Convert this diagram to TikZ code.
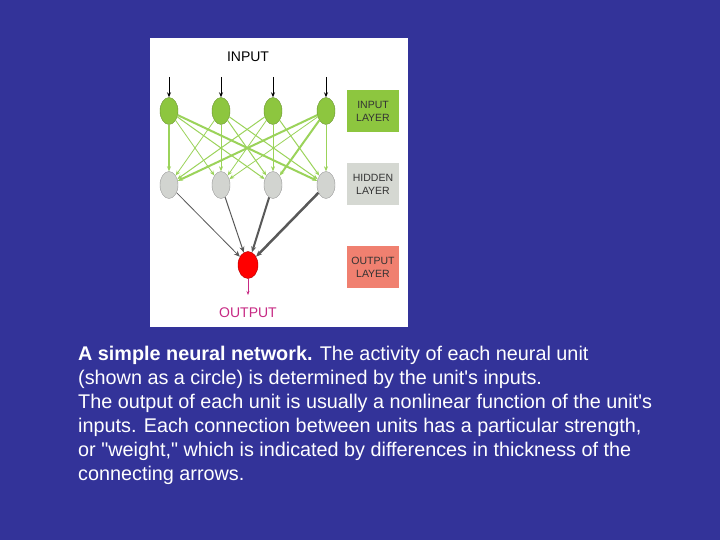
\documentclass[tikz,border=0pt]{standalone}
\usepackage{fontspec}
\setmainfont{Liberation Sans}
\usetikzlibrary{arrows.meta,shapes.geometric}
\definecolor{bg}{HTML}{333399}
\definecolor{gin}{HTML}{8DC63F}
\definecolor{gline}{HTML}{9BD35A}
\definecolor{ghid}{HTML}{D2D4D0}
\definecolor{boxg}{HTML}{8DC63F}
\definecolor{boxh}{HTML}{D5D8D2}
\definecolor{boxo}{HTML}{F08070}
\begin{document}
\begin{tikzpicture}[x=1pt,y=-1pt,
 gw/.style={draw=gline,line width=#1,-{Stealth[length=5pt,width=4pt]}},
 hw/.style={draw=gray!70!black,line width=#1,-{Stealth[length=6pt,width=5pt]}},
 lbox/.style={fill=#1,minimum width=52pt,minimum height=42pt,align=center,font=\fontsize{10.5}{13}\selectfont,inner sep=1pt,text=black!80}]
\fill[bg] (0,0) rectangle (720,540);
\fill[white] (150,38) rectangle (408,327);
\node[font=\fontsize{14}{16}\selectfont] (tin) at (248,57) {INPUT};
\foreach \i/\x in {1/169,2/221,3/273,4/326}{
 \node[ellipse,minimum width=18pt,minimum height=27pt,inner sep=0pt,fill=gin,draw=gin!75!black] (i\i) at (\x,111) {};
 \node[ellipse,minimum width=18pt,minimum height=27pt,inner sep=0pt,fill=ghid,draw=gray!80] (h\i) at (\x,185) {};
 \coordinate (s\i) at (\x,77);
 \draw[line width=1pt,-{Stealth[length=5pt,width=4pt]}] (s\i) -- (i\i);
}
\node[ellipse,minimum width=20pt,minimum height=27pt,inner sep=0pt,fill=red,draw=red!70!black] (o) at (248,265) {};
\foreach \a/\b/\w in {1/1/1.5pt,1/2/0.8pt,1/3/1pt,1/4/2pt,2/1/0.8pt,2/2/0.6pt,2/3/1pt,2/4/1pt,3/1/1pt,3/2/0.8pt,3/3/0.6pt,3/4/1pt,4/1/2pt,4/2/0.8pt,4/3/2pt,4/4/0.6pt}
 \draw[gw=\w] (i\a) -- (h\b);
\draw[hw=0.8pt] (h1) -- (o);
\draw[hw=1pt] (h2) -- (o);
\draw[hw=2pt] (h3) -- (o);
\draw[hw=2.5pt] (h4) -- (o);
\coordinate (oe) at (248,295);
\draw[draw=magenta!80!black,line width=1pt,-{Stealth[length=4pt,width=3pt]}] (o) -- (oe);
\node[font=\fontsize{14}{16}\selectfont,text=magenta!80!black] (tout) at (248,313) {OUTPUT};
\node[lbox=boxg] (bi) at (373,111) {INPUT\\LAYER};
\node[lbox=boxh] (bh) at (373,184) {HIDDEN\\LAYER};
\node[lbox=boxo] (bo) at (373,267) {OUTPUT\\LAYER};
\node[anchor=north west,text=white,align=left,inner sep=0pt,font=\fontsize{19.8}{24}\selectfont] (cap) at (78,346) {\textbf{A simple neural network.} The activity of each neural unit\\(shown as a circle) is determined by the unit\textquotesingle s inputs.\\The output of each unit is usually a nonlinear function of the unit\textquotesingle s\\inputs. Each connection between units has a particular strength,\\or \textquotedbl weight,\textquotedbl{} which is indicated by differences in thickness of the\\connecting arrows.};
\end{tikzpicture}
\end{document}
